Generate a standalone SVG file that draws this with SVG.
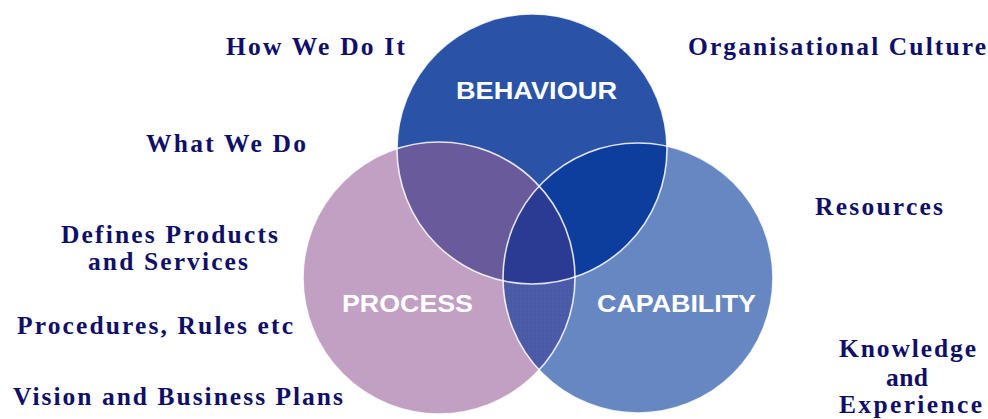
<svg xmlns="http://www.w3.org/2000/svg" width="988" height="419" viewBox="0 0 988 419">
  <style>
    .note { font-family: "Liberation Serif", "Times New Roman", serif; font-weight: bold; font-size: 25.5px; fill: #0f0f69; }
    .title { font-family: "Liberation Sans", Arial, sans-serif; font-weight: bold; font-size: 24px; fill: #ffffff; }
    .rim { fill: none; stroke: #ffffff; stroke-opacity: 0.85; stroke-width: 1.6; }
  </style>
  <defs>
    <circle id="cB" cx="532" cy="149" r="135"/>
    <circle id="cP" cx="439" cy="278" r="136"/>
    <circle id="cC" cx="638" cy="278" r="135"/>
    <clipPath id="inB"><use href="#cB"/></clipPath>
    <clipPath id="inP"><use href="#cP"/></clipPath>
    <pattern id="dots" width="4" height="4" patternUnits="userSpaceOnUse">
      <rect width="4" height="4" fill="#4a5aa7"/>
      <circle cx="1" cy="1" r="0.6" fill="#7a86c4" fill-opacity="0.35"/>
    </pattern>
  </defs>

  <rect width="988" height="419" fill="#ffffff"/>

  <!-- base discs -->
  <g id="process">
    <use href="#cP" fill="#c2a0c3"/>
  </g>
  <g id="capability">
    <use href="#cC" fill="#6787c3"/>
  </g>
  <g id="behaviour">
    <use href="#cB" fill="#2a53a7"/>
  </g>

  <!-- overlaps -->
  <g id="overlaps">
    <use href="#cC" fill="url(#dots)" clip-path="url(#inP)"/>
    <use href="#cP" fill="#695b9b" clip-path="url(#inB)"/>
    <use href="#cC" fill="#0e3e9d" clip-path="url(#inB)"/>
    <g clip-path="url(#inB)">
      <use href="#cC" fill="#2b3b94" clip-path="url(#inP)"/>
    </g>
  </g>

  <!-- white outlines -->
  <g id="rims">
    <use href="#cP" class="rim"/>
    <use href="#cC" class="rim"/>
    <use href="#cB" class="rim"/>
  </g>

  <!-- circle titles -->
  <g id="titles">
    <text class="title" x="456" y="99" textLength="161" lengthAdjust="spacingAndGlyphs">BEHAVIOUR</text>
    <text class="title" x="342" y="312" textLength="131" lengthAdjust="spacingAndGlyphs">PROCESS</text>
    <text class="title" x="597" y="312" textLength="159" lengthAdjust="spacingAndGlyphs">CAPABILITY</text>
  </g>

  <!-- side notes -->
  <g id="notes-left">
    <text class="note" x="226" y="55" textLength="179" lengthAdjust="spacing">How We Do It</text>
    <text class="note" x="146" y="152" textLength="160" lengthAdjust="spacing">What We Do</text>
    <text class="note" x="61" y="243" textLength="217" lengthAdjust="spacing">Defines Products</text>
    <text class="note" x="88" y="270" textLength="160" lengthAdjust="spacing">and Services</text>
    <text class="note" x="17" y="334" textLength="276" lengthAdjust="spacing">Procedures, Rules etc</text>
    <text class="note" x="13" y="405" textLength="330" lengthAdjust="spacing">Vision and Business Plans</text>
  </g>
  <g id="notes-right">
    <text class="note" x="688" y="55" textLength="298" lengthAdjust="spacing">Organisational Culture</text>
    <text class="note" x="815" y="215" textLength="128" lengthAdjust="spacing">Resources</text>
    <text class="note" x="839" y="357" textLength="137" lengthAdjust="spacing">Knowledge</text>
    <text class="note" x="886" y="386" textLength="42" lengthAdjust="spacing">and</text>
    <text class="note" x="839" y="413" textLength="143" lengthAdjust="spacing">Experience</text>
  </g>
</svg>
